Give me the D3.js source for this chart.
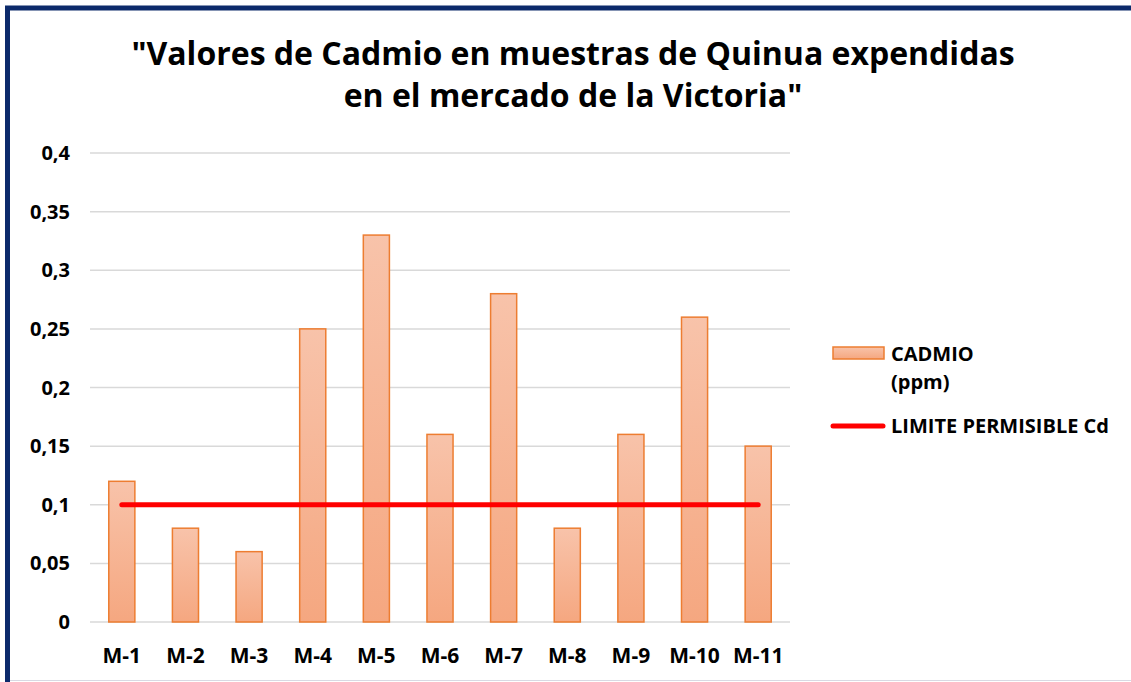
<!DOCTYPE html>
<html>
<head>
<meta charset="utf-8">
<script src="https://cdn.jsdelivr.net/npm/d3@7"></script>
<style>
  body { margin: 0; background: #fff; }
  svg { display: block; font-family: "Open Sans", "Noto Sans", sans-serif; }
</style>
</head>
<body>
<svg id="chart" width="1131" height="682"></svg>
<script>
// data
const muestras = ["M-1", "M-2", "M-3", "M-4", "M-5", "M-6", "M-7", "M-8", "M-9", "M-10", "M-11"];
const cadmio = [0.12, 0.08, 0.06, 0.25, 0.33, 0.16, 0.28, 0.08, 0.16, 0.26, 0.15];
const limite = 0.1;
const yTicks = [0, 0.05, 0.1, 0.15, 0.2, 0.25, 0.3, 0.35, 0.4];
const titleLines = ["\"Valores de Cadmio en muestras de Quinua expendidas", "en el mercado de la Victoria\""];
const legendNames = ["CADMIO", "(ppm)", "LIMITE PERMISIBLE Cd"];

const svg = d3.select("#chart");

// frame
svg.append("rect").attr("x", 0).attr("y", 0).attr("width", 1131).attr("height", 682).attr("fill", "#fff");
svg.append("line").attr("x1", 5).attr("x2", 1131).attr("y1", 8).attr("y2", 8)
  .attr("stroke", "#0c2a6b").attr("stroke-width", 5);
svg.append("line").attr("x1", 7.5).attr("x2", 7.5).attr("y1", 6).attr("y2", 682)
  .attr("stroke", "#0c2a6b").attr("stroke-width", 5);
svg.append("line").attr("x1", 10).attr("x2", 1131).attr("y1", 680.5).attr("y2", 680.5)
  .attr("stroke", "#d9d9e3").attr("stroke-width", 1);

const defs = svg.append("defs");
const grad = defs.append("linearGradient").attr("id", "barGrad")
  .attr("x1", 0).attr("y1", 0).attr("x2", 0).attr("y2", 1);
grad.append("stop").attr("offset", "0%").attr("stop-color", "#f8c3aa");
grad.append("stop").attr("offset", "100%").attr("stop-color", "#f5a780");

const x = d3.scaleBand().domain(muestras).range([90, 790]).paddingInner(0.59).paddingOuter(0.295);
const y = d3.scaleLinear().domain([0, 0.4]).range([622, 153]);

// gridlines
svg.append("g").selectAll("line").data(yTicks).join("line")
  .attr("x1", 90).attr("x2", 790)
  .attr("y1", d => y(d)).attr("y2", d => y(d))
  .attr("stroke", "#d9d9d9").attr("stroke-width", 1.5);

// y labels
svg.append("g").selectAll("text").data(yTicks).join("text")
  .attr("x", 70).attr("y", d => y(d)).attr("dy", "0.35em")
  .attr("text-anchor", "end")
  .attr("font-size", 20).attr("font-weight", "bold").attr("fill", "#000")
  .text(d => d3.format("")(d).replace(".", ","));

// x labels
svg.append("g").selectAll("text").data(muestras).join("text")
  .attr("x", d => x(d) + x.bandwidth() / 2).attr("y", 656).attr("dy", "0.35em")
  .attr("text-anchor", "middle")
  .attr("font-size", 21).attr("font-weight", "bold").attr("fill", "#000")
  .text(d => d);

// bars
svg.append("g").selectAll("rect").data(cadmio).join("rect")
  .attr("x", (d, i) => x(muestras[i]))
  .attr("y", d => y(d))
  .attr("width", x.bandwidth())
  .attr("height", d => y(0) - y(d))
  .attr("fill", "url(#barGrad)")
  .attr("stroke", "#ed7d31").attr("stroke-width", 1.5);

// limit line
const limData = muestras.map(m => ({ m: m, v: limite }));
svg.append("path").datum(limData)
  .attr("d", d3.line().x(d => x(d.m) + x.bandwidth() / 2).y(d => y(d.v)))
  .attr("fill", "none").attr("stroke", "#ff0000").attr("stroke-width", 5)
  .attr("stroke-linecap", "round");

// title
svg.append("g").selectAll("text").data(titleLines).join("text")
  .attr("x", 573).attr("y", (d, i) => 65 + i * 42)
  .attr("text-anchor", "middle")
  .attr("font-size", 32).attr("font-weight", "bold").attr("fill", "#000")
  .text(d => d);

// legend
const lg = svg.append("g");
lg.append("rect").attr("x", 833).attr("y", 347).attr("width", 51).attr("height", 12)
  .attr("fill", "url(#barGrad)").attr("stroke", "#ed7d31").attr("stroke-width", 1.5);
lg.append("text").attr("x", 891).attr("y", 354).attr("dy", "0.35em")
  .attr("font-size", 20).attr("font-weight", "bold").text(legendNames[0]);
lg.append("text").attr("x", 891).attr("y", 382).attr("dy", "0.35em")
  .attr("font-size", 20).attr("font-weight", "bold").text(legendNames[1]);
lg.append("line").attr("x1", 833).attr("x2", 883).attr("y1", 426).attr("y2", 426)
  .attr("stroke", "#ff0000").attr("stroke-width", 5).attr("stroke-linecap", "round");
lg.append("text").attr("x", 891).attr("y", 426).attr("dy", "0.35em")
  .attr("font-size", 20).attr("font-weight", "bold").text(legendNames[2]);
</script>
</body>
</html>
